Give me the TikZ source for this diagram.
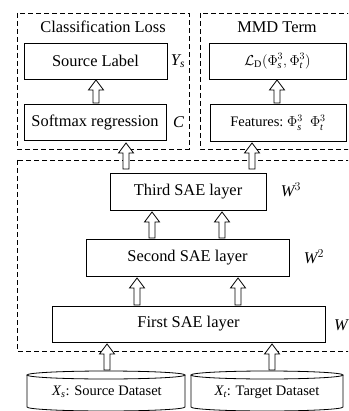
\documentclass[tikz,border=0pt]{standalone}
\usepackage{fontspec}
\setmainfont{Liberation Serif}
\begin{document}
\begin{tikzpicture}[x=1pt,y=-1pt,
  dbox/.style={draw, dash pattern=on 5pt off 3pt, line width=0.8pt},
  layer/.style={draw, line width=0.9pt, fill=white, inner sep=0pt},
  big/.style={font=\fontsize{16.4}{19}\selectfont},
  small/.style={font=\fontsize{14.5}{17}\selectfont},
  barrow/.style={draw, line width=0.8pt, fill=white}]
\newcommand\blockarrow[3]{%
  \draw[barrow] (#1-3,#2) -- (#1-3,#3+10) -- (#1-7.5,#3+10) -- (#1,#3)
    -- (#1+7.5,#3+10) -- (#1+3,#3+10) -- (#1+3,#2) -- cycle;}
\useasboundingbox (0,0) rectangle (348,411);
\clip (0,0) rectangle (348,411);
% dashed groups
\draw[dbox] (17,13) rectangle (189,149);
\draw[dbox] (200,13) rectangle (360,149);
\draw[dbox] (17,160) rectangle (365,351);
% top left
\node[big] (cl) at (103,27) {Classification Loss};
\node[layer, big, minimum width=143pt, minimum height=36pt] (src) at (95.5,61) {Source Label};
\node[big] (ys) at (178,61) {$\mathit{Y}_{\mathit{s}}$};
\node[layer, big, minimum width=142pt, minimum height=36pt] (soft) at (95,122) {Softmax regression};
\node[big] (c) at (178.5,122) {$\mathit{C}$};
% top right
\node[big] (mmd) at (277,27) {MMD Term};
\node[layer, small, minimum width=137pt, minimum height=36pt] (ld) at (277.5,61) {$\mathcal{L}_{\mathrm{D}}\bigl(\Phi_{\mathit{s}}^3,\Phi_{\mathit{t}}^3\bigr)$};
\node[layer, small, minimum width=136pt, minimum height=37pt] (feat) at (278,122.5) {Features:\ $\Phi_{\mathit{s}}^3$\ \ $\Phi_{\mathit{t}}^3$};
% SAE layers
\node[layer, big, minimum width=156pt, minimum height=37pt] (l3) at (188,191.5) {Third SAE layer};
\node[big] (w3) at (291,190) {$\mathit{W}^3$};
\node[layer, big, minimum width=203pt, minimum height=37pt] (l2) at (187.5,257.5) {Second SAE layer};
\node[big] (w2) at (314,257) {$\mathit{W}^2$};
\node[layer, big, minimum width=273pt, minimum height=36pt] (l1) at (188.5,324) {First SAE layer};
\node[big, anchor=west, inner sep=0pt] (w1) at (334,325) {$\mathit{W}$};
% datasets
\draw[line width=0.8pt] (27,375) -- (27,407) arc[start angle=180, end angle=0, x radius=79, y radius=4] -- (185,375);
\draw[line width=0.8pt] (106,375) ellipse [x radius=79, y radius=4];
\node[small] (xs) at (107,392) {$\mathit{X}_{\mathit{s}}$: Source Dataset};
\draw[line width=0.8pt] (191,375) -- (191,407) arc[start angle=180, end angle=0, x radius=76, y radius=4] -- (343,375);
\draw[line width=0.8pt] (267,375) ellipse [x radius=76, y radius=4];
\node[small] (xt) at (267,392) {$\mathit{X}_{\mathit{t}}$: Target Dataset};
% block arrows
\blockarrow{96}{103}{80}
\blockarrow{277}{103}{80}
\blockarrow{126}{169}{143}
\blockarrow{252}{169}{143}
\blockarrow{152}{238}{212}
\blockarrow{222}{238}{212}
\blockarrow{137}{305}{278}
\blockarrow{238}{305}{278}
\blockarrow{107}{370}{344}
\blockarrow{272}{370}{344}
\end{tikzpicture}
\end{document}
